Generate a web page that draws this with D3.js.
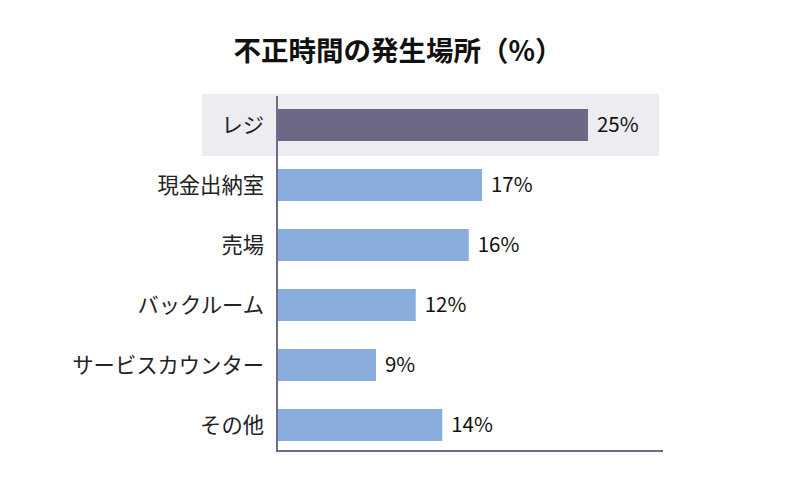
<!DOCTYPE html>
<html><head><meta charset="utf-8">
<script src="https://cdn.jsdelivr.net/npm/d3@7"></script>
<style>body{margin:0;background:#fff;} text{font-family:"Noto Sans CJK JP","Noto Sans",sans-serif;}</style>
</head><body><svg id="c" width="800" height="503"></svg>
<script>
const title = "不正時間の発生場所（%）";
const categories = ["レジ","現金出納室","売場","バックルーム","サービスカウンター","その他"];
const values = [25,17,16,12,9,14];
const valueLabels = ["25%","17%","16%","12%","9%","14%"];
const highlighted = "レジ";

const svg = d3.select("#c");
const x = d3.scaleLinear().domain([1.53, 30.66]).range([277, 663]);
const y = d3.scaleBand().domain(categories).range([95, 455]).paddingInner(28/60).paddingOuter(0.2333);

svg.append("text").attr("x", 398).attr("y", 61).attr("text-anchor","middle")
  .attr("font-size", 27.5).attr("font-weight","bold").attr("fill","#111").text(title);

// highlight background
svg.append("rect").attr("x", 202).attr("width", 457)
  .attr("y", y(highlighted) - 15).attr("height", y.bandwidth() + 30).attr("fill", "#ececf1");

svg.selectAll("rect.bar").data(categories).join("rect").attr("class","bar")
  .attr("x", x(x.domain()[0])).attr("y", d => y(d))
  .attr("width", (d,i) => x(values[i]) - x(x.domain()[0]))
  .attr("height", y.bandwidth())
  .attr("fill", d => d === highlighted ? "#6e6887" : "#8aaedb");

svg.selectAll("text.val").data(categories).join("text").attr("class","val")
  .attr("x", (d,i) => x(values[i]) + 9).attr("y", d => y(d) + y.bandwidth()/2)
  .attr("dy","0.36em").attr("font-size", 20.5).attr("fill","#111")
  .text((d,i) => valueLabels[i]);

svg.selectAll("text.cat").data(categories).join("text").attr("class","cat")
  .attr("x", 264).attr("y", d => y(d) + y.bandwidth()/2)
  .attr("dy","0.36em").attr("text-anchor","end").attr("font-size", 21.3).attr("fill","#222")
  .text(d => d);

// axes
const yAxis = svg.append("g").attr("transform","translate(277,0)")
  .call(d3.axisLeft(y).tickSize(0).tickFormat(""));
yAxis.select(".domain").attr("d", "M0,96V452").attr("stroke","#6f6b8c").attr("stroke-width",2);
const xAxis = svg.append("g").attr("transform","translate(0,451)")
  .call(d3.axisBottom(x).tickSize(0).tickFormat("").ticks(0));
xAxis.select(".domain").attr("d", "M276,0H663").attr("stroke","#6f6b8c").attr("stroke-width",2);
</script></body></html>
